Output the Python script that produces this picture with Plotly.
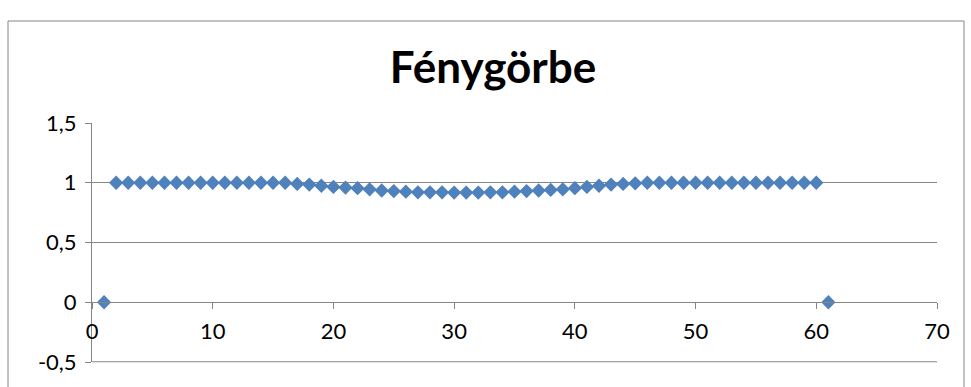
import plotly.graph_objects as go

# Light-curve measurements (relative brightness per frame)
frames = list(range(1, 62))
brightness = [
    0.0,
    1.0, 1.0, 1.0, 1.0, 1.0, 1.0, 1.0, 1.0, 1.0, 1.0, 1.0, 1.0, 1.0, 1.0, 1.0,
    0.99, 0.985, 0.975, 0.965, 0.96, 0.955, 0.945, 0.935, 0.93, 0.925,
    0.92, 0.92, 0.92, 0.918, 0.918, 0.918, 0.92, 0.92,
    0.925, 0.93, 0.935, 0.94, 0.945, 0.955, 0.965, 0.975, 0.985, 0.99, 0.995,
    1.0, 1.0, 1.0, 1.0, 1.0, 1.0, 1.0, 1.0, 1.0, 1.0, 1.0, 1.0, 1.0, 1.0, 1.0,
    0.0,
]

x_ticks = [0, 10, 20, 30, 40, 50, 60, 70]
y_ticks = [-0.5, 0, 0.5, 1, 1.5]
y_tick_text = ["-0,5", "0", "0,5", "1", "1,5"]

title_text = "Fénygörbe"

W, H = 971, 387
L, R, T, B = 92, 34, 123, 25
grid_col = "#868686"
font_family = "Lato, Carlito, 'Open Sans', sans-serif"

fig = go.Figure()
fig.add_trace(go.Scatter(
    x=frames, y=brightness, mode="markers",
    marker=dict(symbol="diamond", size=11, color="#4F81BD",
                line=dict(width=0)),
    showlegend=False,
))

y_min, y_max = y_ticks[0], y_ticks[-1]
zero_pos = (0 - y_min) / (y_max - y_min)

fig.update_layout(
    width=W, height=H,
    margin=dict(l=L, r=R, t=T, b=B),
    paper_bgcolor="white", plot_bgcolor="white",
    font=dict(family=font_family, size=22, color="black"),
    title=dict(text=title_text, x=493 / W, xanchor="center",
               y=1 - 68 / H, yanchor="middle", yref="container",
               font=dict(family=font_family, size=44, color="black",
                         weight="bold")),
    xaxis=dict(
        range=[x_ticks[0], x_ticks[-1]], tickvals=x_ticks,
        showgrid=False, zeroline=False,
        showline=True, linecolor=grid_col, linewidth=1,
        ticks="outside", ticklen=6, tickcolor=grid_col,
        anchor="free", position=zero_pos,
        ticklabelstandoff=3,
    ),
    yaxis=dict(
        range=[y_min, y_max], tickvals=y_ticks, ticktext=y_tick_text,
        showgrid=True, gridcolor=grid_col, gridwidth=1,
        zeroline=False,
        showline=True, linecolor=grid_col, linewidth=1,
        ticks="outside", ticklen=6, tickcolor=grid_col,
        ticklabelstandoff=4,
    ),
)

# Bottom gridline along the lower edge of the plot area
fig.add_shape(
    type="line", xref="paper", yref="paper",
    x0=0, x1=1, y0=0.001, y1=0.001,
    line=dict(color=grid_col, width=1), layer="below",
)

# Outer chart frame
pw, ph = W - L - R, H - T - B
fig.add_shape(
    type="rect", xref="paper", yref="paper",
    x0=(8 - L) / pw, x1=(964 - L) / pw,
    y0=(H - B - 395) / ph, y1=(H - B - 21) / ph,
    line=dict(color=grid_col, width=1), fillcolor="rgba(0,0,0,0)",
    layer="below",
)

fig.write_html("out.html")
